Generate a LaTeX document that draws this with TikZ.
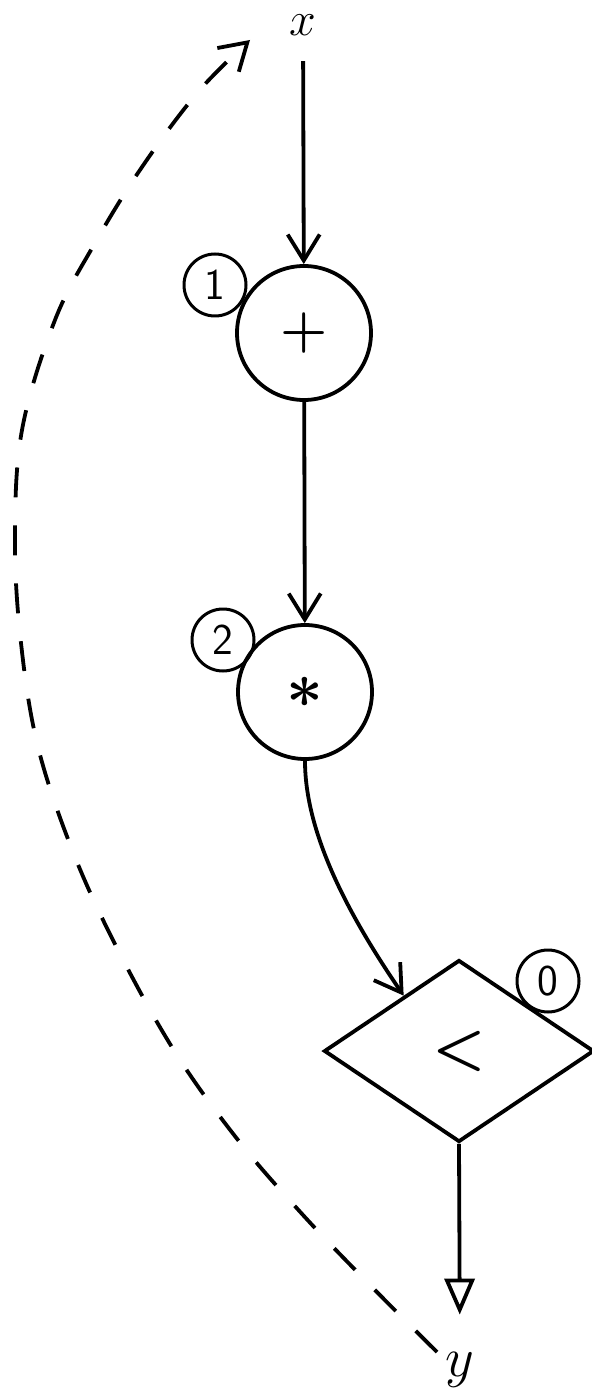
\RequirePackage{fix-cm}
\documentclass[tikz,border=0pt]{standalone}
\usetikzlibrary{arrows.meta,shapes.geometric}
\begin{document}
\begin{tikzpicture}[x=0.5pt,y=-0.5pt,line width=1.9pt,
  op/.style={circle,draw,minimum size=67pt,inner sep=0pt},
  tag/.style={circle,draw,line width=1.5pt,minimum size=31pt,inner sep=0pt,font=\sffamily\fontsize{22}{22}\selectfont},
  lbl/.style={inner sep=0pt},
  arr/.style={-{Straight Barb[length=13pt,width=16pt,line width=1.9pt]}},
  tri/.style={-{Triangle[open,length=18pt,width=15pt,line width=1.9pt]}},
  dsh/.style={dash pattern=on 15pt off 14pt}]
\useasboundingbox (0,0) rectangle (592,1400);
% labels
\node[lbl,font=\fontsize{24}{24}\selectfont] (x) at (303,25) {$x$};
\node[lbl,font=\fontsize{28}{28}\selectfont] (y) at (460,1370) {$y$};
% operation nodes
\node[op,font=\boldmath\fontsize{27}{27}\selectfont] (c1) at (304,333) {$\mathbf{+}$};
\node[op,font=\boldmath\fontsize{32}{32}\selectfont] (c2) at (305,692) {$\ast$};
\node[diamond,draw,minimum width=135pt,minimum height=91pt,inner sep=0pt,
      font=\boldmath\fontsize{30}{30}\selectfont] (lt) at (459,1051) {$<$};
% tags
\node[tag] (n1) at (215,285) {1};
\node[tag] (n2) at (223,640) {2};
\node[tag] (n0) at (548,981) {0};
% connectors
\draw[arr,shorten <=12pt] (x) -- (c1);
\draw[arr] (c1) -- (c2);
\draw[arr] (c2.south) .. controls +(0,80) and +(-45,-66) .. (lt.135);
\draw[tri,shorten >=18pt] (lt.south) -- (y);
\coordinate (dstart) at (437,1352);
\coordinate (dend) at (250,40);
\draw[dsh,arr] plot[smooth,tension=0.6] coordinates {(dstart) (370,1285) (303,1215) (238,1140) (175,1052) (117,948) (73,852) (38,747) (21,643) (15,540) (22,430) (55,320) (95,243) (142,167) (198,92) (dend)};
\end{tikzpicture}
\end{document}
